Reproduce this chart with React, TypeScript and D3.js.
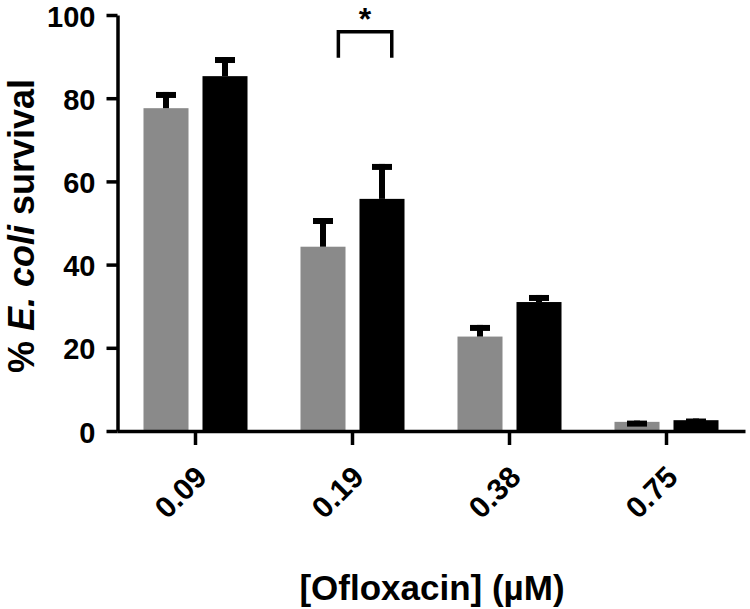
import React, { useEffect, useRef } from 'react';
import * as d3 from 'd3';

// ofloxacin concentrations (µM)
const concentrations = ['0.09', '0.19', '0.38', '0.75'];
const seriesKeys = ['grey', 'black'];
const greyMeans = [77.6, 44.3, 22.7, 2.2];
const greyErrors = [3.9, 6.9, 2.8, 0.3];
const blackMeans = [85.3, 55.8, 31.0, 2.6];
const blackErrors = [4.6, 8.4, 1.7, 0.4];
const yTicks = [0, 20, 40, 60, 80, 100];

const W = 750;
const H = 609;
const FONT = '"Liberation Sans", Arial, Helvetica, sans-serif';
const colors: Record<string, string> = { grey: '#8a8a8a', black: '#000000' };

export default function App() {
  const ref = useRef<SVGSVGElement>(null);

  useEffect(() => {
    const svg = d3.select(ref.current);
    svg.selectAll('*').remove();

    const x = d3.scaleBand().domain(concentrations).range([117, 745]).padding(0);
    const x1 = d3.scaleBand().domain(seriesKeys).range([0, x.bandwidth()])
      .paddingInner(0.237).paddingOuter(0.449);
    const y = d3.scaleLinear().domain([0, 100]).range([431, 15]);

    const rows = concentrations.map((c, i) => ({
      c,
      bars: [
        { key: 'grey', v: greyMeans[i], e: greyErrors[i] },
        { key: 'black', v: blackMeans[i], e: blackErrors[i] }
      ]
    }));

    const groups = svg.append('g').selectAll('g').data(rows).enter().append('g')
      .attr('transform', d => `translate(${x(d.c)},0)`);

    groups.selectAll('rect.bar').data(d => d.bars).enter().append('rect')
      .attr('class', 'bar')
      .attr('x', d => x1(d.key)!)
      .attr('y', d => y(d.v))
      .attr('width', x1.bandwidth())
      .attr('height', d => y(0) - y(d.v))
      .attr('fill', d => colors[d.key]);

    // upper error bars: stem + cap
    const err = groups.selectAll('g.err').data(d => d.bars).enter().append('g')
      .attr('class', 'err')
      .attr('transform', d => `translate(${x1(d.key)! + x1.bandwidth() / 2},0)`);
    err.append('rect')
      .attr('x', -3).attr('width', 6)
      .attr('y', d => y(d.v + d.e))
      .attr('height', d => Math.max(0, y(d.v) - y(d.v + d.e)))
      .attr('fill', '#000');
    err.append('rect')
      .attr('x', -10).attr('width', 20)
      .attr('y', d => y(d.v + d.e))
      .attr('height', 6)
      .attr('fill', '#000');

    // y axis
    const yAxis = svg.append('g')
      .attr('transform', 'translate(117.5,0)')
      .call(d3.axisLeft(y).tickValues(yTicks).tickSize(11).tickSizeOuter(0).tickPadding(11));
    yAxis.select('.domain').attr('stroke-width', 3.5);
    yAxis.selectAll('.tick line').attr('stroke-width', 3.5);
    yAxis.selectAll('.tick text')
      .attr('font-family', FONT).attr('font-weight', 'bold').attr('font-size', 29).attr('fill', '#000')
      .attr('dy', '0.38em');

    // x axis
    const xAxis = svg.append('g')
      .attr('transform', 'translate(0,431)')
      .call(d3.axisBottom(x).tickSize(14).tickSizeOuter(0));
    xAxis.select('.domain').attr('stroke-width', 3.5);
    xAxis.selectAll('.tick line').attr('stroke-width', 3.5);
    xAxis.selectAll('.tick text')
      .attr('font-family', FONT).attr('font-weight', 'bold').attr('font-size', 30).attr('fill', '#000')
      .attr('text-anchor', 'end')
      .attr('y', 0).attr('dy', 0)
      .attr('transform', 'translate(13,48) rotate(-45)');

    // significance bracket on 0.19
    const bx0 = x('0.19')! + x.bandwidth() * 0.41;
    const bx1 = x('0.19')! + x.bandwidth() * 0.75;
    svg.append('path')
      .attr('d', `M${bx0},${y(89.7)}V${y(96)}H${bx1}V${y(89.7)}`)
      .attr('fill', 'none').attr('stroke', '#000').attr('stroke-width', 3.5);
    svg.append('text')
      .attr('x', (bx0 + bx1) / 2).attr('y', 30)
      .attr('text-anchor', 'middle')
      .attr('font-family', FONT).attr('font-weight', 'bold').attr('font-size', 32)
      .text('*');

    // axis titles
    const yt = svg.append('text')
      .attr('transform', 'translate(34,226) rotate(-90)')
      .attr('text-anchor', 'middle')
      .attr('font-family', FONT).attr('font-weight', 'bold').attr('font-size', 36);
    yt.append('tspan').text('% ');
    yt.append('tspan').attr('font-style', 'italic').text('E. coli');
    yt.append('tspan').text(' survival');

    svg.append('text')
      .attr('x', 432).attr('y', 600)
      .attr('text-anchor', 'middle')
      .attr('font-family', FONT).attr('font-weight', 'bold').attr('font-size', 35)
      .text('[Ofloxacin] (µM)');
  }, []);

  return (
    <svg ref={ref} width={W} height={H}
      style={{ position: 'absolute', left: 0, top: 0, background: '#fff' }} />
  );
}
